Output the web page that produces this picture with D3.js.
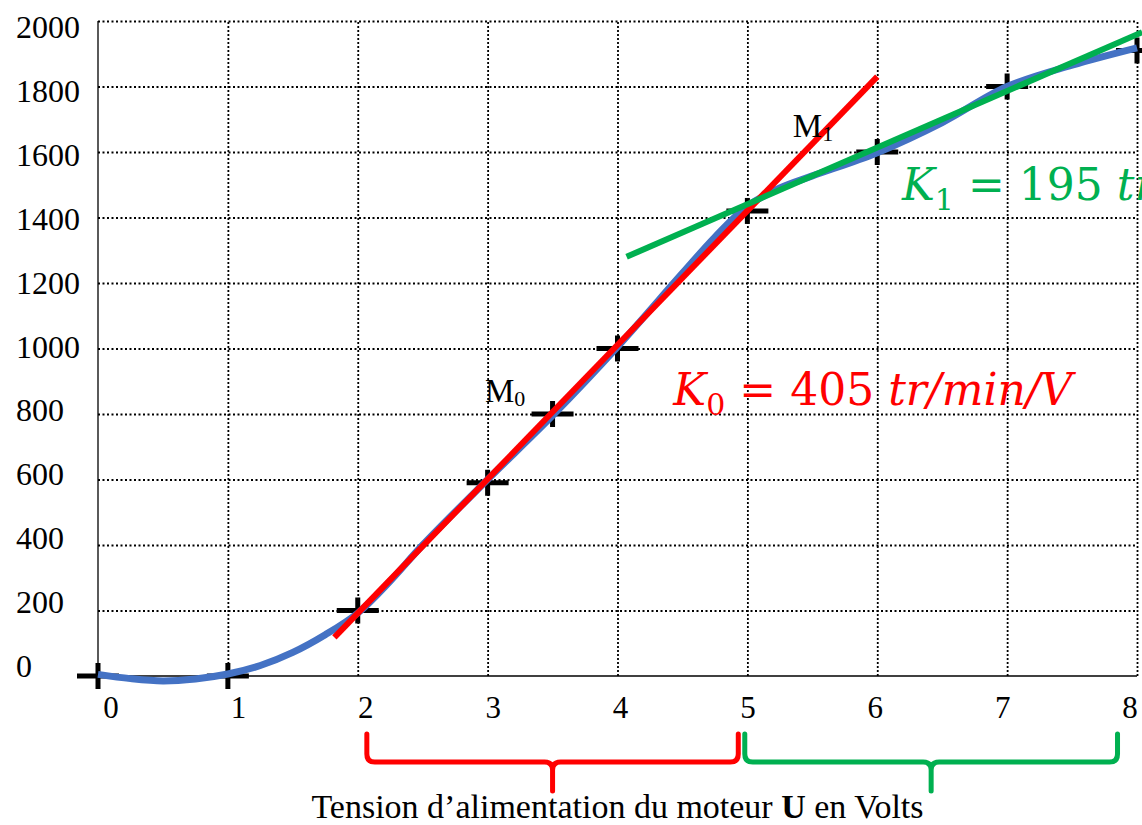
<!DOCTYPE html>
<html>
<head>
<meta charset="utf-8">
<script src="https://cdn.jsdelivr.net/npm/d3@7"></script>
<style>
  body { margin: 0; background: #fff; }
  svg { display: block; }
  text { font-family: 'Liberation Serif', 'Times New Roman', serif; fill: #000; }
  .math { font-family: 'DejaVu Serif', serif; white-space: pre; }
</style>
</head>
<body>
<svg id="chart"></svg>
<script>
// axes
const voltTicks = [0, 1, 2, 3, 4, 5, 6, 7, 8];
const speedTicks = [0, 200, 400, 600, 800, 1000, 1200, 1400, 1600, 1800, 2000];

// measured points (crosses)
const measuredU = [0, 1, 2, 3, 3.5, 4, 5, 6, 7, 8];
const measuredN = [0, 0, 200, 590, 800, 1000, 1420, 1600, 1800, 1910];

// smoothed characteristic (blue)
const fitU = [0, 0.25, 0.5, 0.75, 1, 1.25, 1.5, 1.75, 2, 2.25, 2.5, 3, 3.5, 4, 4.5, 4.75, 5, 5.25, 5.5, 6, 6.5, 7, 7.5, 8];
const fitN = [5, -8, -15, -9, 6, 32, 72, 126, 192, 290, 400, 600, 795, 1005, 1230, 1340, 1435, 1490, 1527, 1598, 1690, 1800, 1865, 1918];

// tangents
const tangent0U = [1.82, 6.0];
const tangent0N = [118, 1830];
const tangent1U = [4.07, 8.04];
const tangent1N = [1280, 1966];

// braces under the x axis
const braceFrom = [2.07, 4.98];
const braceTo = [4.93, 7.85];
const braceColor = ['#ff0000', '#00b050'];

const width = 1142, height = 825;
const svg = d3.select('#chart').attr('width', width).attr('height', height);

const x = d3.scaleLinear().domain([0, 8]).range([98, 1137]);
const y = d3.scaleLinear().domain([0, 2000]).range([676, 21]);
// tick labels are set slightly apart from the grid in the original
const xLab = d3.scaleLinear().domain([0, 8]).range([111, 1130]);
const yLab = d3.scaleLinear().domain([0, 2000]).range([677, 38]);

// grid
svg.append('g')
  .attr('transform', 'translate(0,' + y(0) + ')')
  .call(d3.axisBottom(x).tickValues(voltTicks.slice(1)).tickSize(-(y(0) - y(2000))).tickFormat(''))
  .call(g => g.select('.domain').remove())
  .call(g => g.selectAll('line')
    .attr('stroke', '#000').attr('stroke-width', 1.8).attr('stroke-dasharray', '2,2'));

svg.append('g')
  .attr('transform', 'translate(' + x(0) + ',0)')
  .call(d3.axisLeft(y).tickValues(speedTicks.slice(1)).tickSize(-(x(8) - x(0))).tickFormat(''))
  .call(g => g.select('.domain').remove())
  .call(g => g.selectAll('line')
    .attr('stroke', '#000').attr('stroke-width', 2.2).attr('stroke-dasharray', '2,2.5'));

// axis lines
svg.append('line')
  .attr('x1', x(0)).attr('x2', x(0)).attr('y1', y(2000)).attr('y2', y(0))
  .attr('stroke', '#000').attr('stroke-width', 1.3);
svg.append('line')
  .attr('x1', x(0)).attr('x2', x(8)).attr('y1', y(0)).attr('y2', y(0))
  .attr('stroke', '#000').attr('stroke-width', 1.3);

// tick labels
svg.append('g').selectAll('text')
  .data(speedTicks)
  .enter()
  .append('text')
  .attr('x', 16)
  .attr('y', d => yLab(d))
  .attr('font-size', 32)
  .text(d => d);

svg.append('g').selectAll('text')
  .data(voltTicks)
  .enter()
  .append('text')
  .attr('x', d => xLab(d))
  .attr('y', 718)
  .attr('font-size', 31)
  .style('text-anchor', 'middle')
  .text(d => d);

// crosses
const points = measuredU.map((u, i) => ({ u: u, n: measuredN[i] }));
const cross = svg.append('g').selectAll('g')
  .data(points)
  .enter()
  .append('g')
  .attr('transform', d => 'translate(' + x(d.u) + ',' + y(d.n) + ')');
cross.append('line').attr('x1', -21).attr('x2', 21).attr('y1', 0).attr('y2', 0);
cross.append('line').attr('x1', 0).attr('x2', 0).attr('y1', -13).attr('y2', 13);
cross.selectAll('line').attr('stroke', '#000').attr('stroke-width', 5);

// curves
const line = d3.line().x(d => x(d.u)).y(d => y(d.n));

svg.append('path')
  .datum(fitU.map((u, i) => ({ u: u, n: fitN[i] })))
  .attr('fill', 'none')
  .attr('stroke', '#4472c4')
  .attr('stroke-width', 7)
  .attr('d', line.curve(d3.curveCatmullRom.alpha(0.5)));

const straight = d3.line().x(d => x(d.u)).y(d => y(d.n));

svg.append('path')
  .datum(tangent0U.map((u, i) => ({ u: u, n: tangent0N[i] })))
  .attr('fill', 'none')
  .attr('stroke', '#ff0000')
  .attr('stroke-width', 6)
  .attr('d', straight);

svg.append('path')
  .datum(tangent1U.map((u, i) => ({ u: u, n: tangent1N[i] })))
  .attr('fill', 'none')
  .attr('stroke', '#00b050')
  .attr('stroke-width', 6)
  .attr('d', straight);

// point names
const m0 = svg.append('text').attr('x', x(2.98)).attr('y', y(837)).attr('font-size', 33);
m0.append('tspan').text('M');
m0.append('tspan').attr('font-size', 22).attr('dy', 4).text('0');

const m1 = svg.append('text').attr('x', x(5.35)).attr('y', y(1646)).attr('font-size', 33);
m1.append('tspan').text('M');
m1.append('tspan').attr('font-size', 22).attr('dy', 4).text('1');

// slopes
const slope = (u, n, sub, value, color) => {
  const t = svg.append('text')
    .attr('class', 'math')
    .attr('x', x(u)).attr('y', y(n))
    .attr('font-size', 44)
    .style('fill', color);
  t.append('tspan').attr('font-style', 'italic').text('K');
  t.append('tspan').attr('font-size', 30).attr('dy', 10).text(sub);
  t.append('tspan').attr('dy', -10).text(' = ' + value + ' ');
  t.append('tspan').attr('font-style', 'italic').text('tr/min/V');
};
slope(4.43, 827, '0', 405, '#ff0000');
slope(6.19, 1453, '1', 195, '#00b050');

// braces
const brace = (x0, x1, top, mid, bottom, r) => {
  const xc = (x0 + x1) / 2;
  return 'M' + x0 + ',' + top +
    ' L' + x0 + ',' + (mid - r) +
    ' Q' + x0 + ',' + mid + ' ' + (x0 + r) + ',' + mid +
    ' L' + (xc - r) + ',' + mid +
    ' Q' + xc + ',' + mid + ' ' + xc + ',' + (mid + r) +
    ' L' + xc + ',' + bottom +
    ' M' + xc + ',' + (mid + r) +
    ' Q' + xc + ',' + mid + ' ' + (xc + r) + ',' + mid +
    ' L' + (x1 - r) + ',' + mid +
    ' Q' + x1 + ',' + mid + ' ' + x1 + ',' + (mid - r) +
    ' L' + x1 + ',' + top;
};

svg.append('g').selectAll('path')
  .data(braceFrom.map((f, i) => ({ from: f, to: braceTo[i], color: braceColor[i] })))
  .enter()
  .append('path')
  .attr('fill', 'none')
  .attr('stroke', d => d.color)
  .attr('stroke-width', 5)
  .attr('stroke-linecap', 'round')
  .attr('d', d => brace(x(d.from), x(d.to), 734, 762, 791, 8));

// axis title
const title = svg.append('text')
  .attr('x', x(4))
  .attr('y', 818)
  .attr('font-size', 34)
  .style('text-anchor', 'middle');
title.append('tspan').text('Tension d’alimentation du moteur ');
title.append('tspan').attr('font-weight', 'bold').text('U');
title.append('tspan').text(' en Volts');
</script>
</body>
</html>
